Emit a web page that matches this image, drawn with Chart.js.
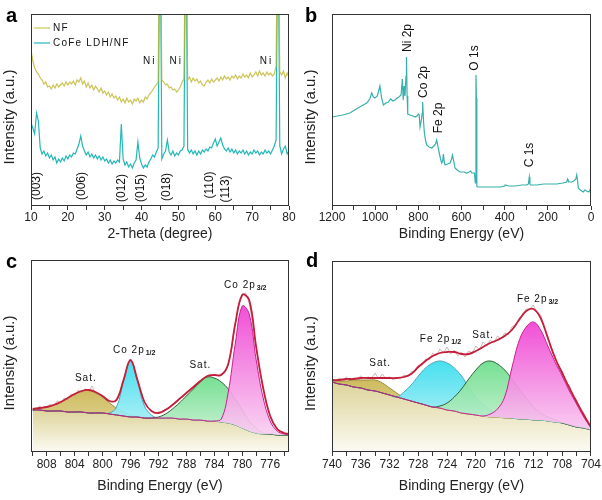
<!DOCTYPE html>
<html>
<head>
<meta charset="utf-8">
<script src="https://cdn.jsdelivr.net/npm/chart.js"></script>
<style>
html,body{margin:0;padding:0;background:#fff;}
#wrap{position:relative;width:602px;height:500px;overflow:hidden;}
.p{position:absolute;}
</style>
</head>
<body>
<div id="wrap">
  <div class="p" style="left:0;top:0;width:301px;height:250px"><canvas id="ca"></canvas></div>
  <div class="p" style="left:301px;top:0;width:301px;height:250px"><canvas id="cb"></canvas></div>
  <div class="p" style="left:0;top:250px;width:301px;height:250px"><canvas id="cc"></canvas></div>
  <div class="p" style="left:301px;top:250px;width:301px;height:250px"><canvas id="cd"></canvas></div>
</div>
<script>
// ---------------- DATA ----------------
// (a) XRD
const twoTheta = [10,10.5,11,11.5,12,12.5,13,13.5,14,14.5,15,15.5,16,16.5,17,17.5,18,18.5,19,19.5,20,20.5,21,21.5,22,22.5,23,23.5,24,24.5,25,25.5,26,26.5,27,27.5,28,28.5,29,29.5,30,30.5,31,31.5,32,32.5,33,33.5,34,34.5,35,35.5,36,36.5,37,37.5,38,38.5,39,39.5,40,40.5,41,41.5,42,42.5,43,43.5,44,44.5,45,45.5,46,46.5,47,47.5,48,48.5,49,49.5,50,50.5,51,51.5,52,52.5,53,53.5,54,54.5,55,55.5,56,56.5,57,57.5,58,58.5,59,59.5,60,60.5,61,61.5,62,62.5,63,63.5,64,64.5,65,65.5,66,66.5,67,67.5,68,68.5,69,69.5,70,70.5,71,71.5,72,72.5,73,73.5,74,74.5,75,75.5,76,76.5,77,77.5,78,78.5,79,79.5,80];
const xrdNF = [156,145,138,134,132,128,126,122,124,119, 120,117,121,118,122,119,121,123,120,124, 121,124,122,125,121,126,124,128,122,125, 119,123,118,121,116,120,117,114,118,113, 115,111,114,109,112,108,110,106,109,104, 107,103,108,104,106,102,107,105,108,103, 106,104,109,107,111,113,116,119,121,124, 320,126,124,121,122,118,119,116,117,114, 116,119,124,127,320,126,129,124,128,125, 127,123,125,121,120,124,126,123,127,124, 126,128,125,129,126,130,127,129,126,130, 128,131,127,130,128,132,129,131,128,133, 129,131,134,130,135,131,133,130,134,131, 133,130,132,140,320,134,131,135,128,133, 129];
const xrdLDH = [83,78,72,93,85,58,52,55,50,53, 48,51,46,49,43,47,44,48,45,50, 47,51,49,53,52,57,62,70,60,55, 51,54,49,52,48,51,47,50,46,49, 45,47,43,46,42,45,43,46,44,82, 47,41,44,39,42,38,43,46,64,48, 42,38,41,39,44,47,51,49,54,58, 320,47,52,55,66,54,51,55,50,53, 51,55,56,60,320,57,53,56,52,55, 51,55,52,56,54,57,55,59,58,63, 67,60,64,68,61,57,55,58,54,57, 53,56,52,55,53,56,52,55,51,54, 52,56,53,55,51,54,52,56,53,55, 52,56,60,66,320,60,52,57,60,52, 55];
const seriesNamesA = ['NF', 'CoFe LDH/NF'];
const notesA = [
  {t:'Ni', x:42.2, y:145}, {t:'Ni', x:49.4, y:145}, {t:'Ni', x:73.9, y:145},
  {t:'(003)', x:11.5, y:20, rot:true}, {t:'(006)', x:23.8, y:20, rot:true},
  {t:'(012)', x:34.6, y:18, rot:true}, {t:'(015)', x:39.8, y:18, rot:true},
  {t:'(018)', x:46.8, y:19, rot:true}, {t:'(110)', x:58.6, y:21, rot:true},
  {t:'(113)', x:62.8, y:17, rot:true}
];
// (b) XPS survey
const beSurvey = [1200,1150,1117,1080,1039,1025,1016,1008,1001,990,978,970,962,950,939,928,918,908,898,890,880,874,870,866,862,857,855,852,849,839,825,815,806,800,796,792,786,782,780,776,772,766,761,750,738,728,720,715,711,706,703,697,692,687,684,680,676,665,653,646,642,637,630,620,607,590,576,565,558,552,545,540,536,533,531,529,527,520,500,470,440,420,400,398,380,350,320,298,290,286,283,280,250,220,190,160,130,113,108,103,90,80,70,66,62,59,50,36,28,20,10,5,0];
const survey = [89,91,93,98,103, 107,113,109,108,110, 120,108,101,103,104, 107,105,106,108,109, 111,127,106,120,110, 130,149,110,92,91, 90,89,90,92,91, 79,86,93,104,85, 73,65,61,59,58, 60,62,66,62,56, 53,47,43,45,52, 44,41,42,43,47, 51,46,38,36,34, 34,33,34,35,33, 33,33,23,131,108, 20,19,19,19,19, 19,19,20,21,20, 20,21,21,22,29, 22,21,21,22,22, 22,23,24,27,24, 24,25,27,31,25, 18,16,14,16,15, 14,16,19];
const notesB = [
  {t:'Ni 2p', x:848, y:168, rot:true}, {t:'Co 2p', x:774, y:124, rot:true},
  {t:'Fe 2p', x:704, y:88, rot:true}, {t:'O 1s', x:537, y:148, rot:true},
  {t:'C 1s', x:283, y:51, rot:true}
];
// (c) Co 2p
const beC = [810,809,808,807,806,805,804,803,802,801,800,799,798,797,796,795,794,793,792,791,790,789,788,787,786,785,784,783,782,781,780,779,778,777,776,775,774,773];
const bgC   = [42,42,41,41,41,40,40,40,39,39, 39,38,37,36,35,35,34,34,34,34, 34,33,33,32,32,31,31,30,29,27, 24,21,19,18,18,17,17,17];
const satC1 = [43,44,45,47,50,54,58,61,62,59, 55,49,44,40,37,35,34,34,34,34, 34,33,33,32,32,31,31,30,29,27, 24,21,19,18,18,17,17,17];
const co12  = [42,42,41,41,41,40,40,40,39,39, 39,39,45,70,91,70,46,37,34,34, 34,33,33,32,32,31,31,30,29,27, 24,21,19,18,18,17,17,17];
const satC2 = [42,42,41,41,41,40,40,40,39,39, 39,38,37,36,35,35,34,34,35,38, 43,49,56,63,70,75,74,70,63,53, 42,31,24,19,18,17,17,17];
const co32  = [42,42,41,41,41,40,40,40,39,39, 39,38,37,36,35,35,34,34,34,34, 34,33,33,32,32,31,31,33,60,108, 146,138,92,54,31,21,18,17];
const envC  = [43,44,45,47,50,54,58,61,62,60, 56,51,52,72,92,72,50,41,39,42, 47,53,59,65,71,76,77,77,88,128, 157,152,105,64,36,23,19,18];
const beRawC = [810,809.5,809,808.5,808,807.5,807,806.5,806,805.5,805,804.5,804,803.5,803,802.5,802,801.5,801,800.5,800,799.5,799,798.5,798,797.5,797,796.5,796,795.5,795,794.5,794,793.5,793,792.5,792,791.5,791,790.5,790,789.5,789,788.5,788,787.5,787,786.5,786,785.5,785,784.5,784,783.5,783,782.5,782,781.5,781,780.5,780,779.5,779,778.5,778,777.5,777,776.5,776,775.5,775,774.5,774,773.5,773];
const rawC = [44,42,46,43,45,48,46,51,49,54, 52,58,56,62,59,63,61,66,58,58, 55,53,50,50,53,60,72,85,93,84, 71,58,50,44,41,39,40,40,43,44, 48,50,54,55,60,62,65,69,71,74, 76,78,77,77,78,79,88,104,128,146, 158,159,149,128,104,82,64,49,37,29, 24,20,19,18,19];
const notesC = [
  {t:'Sat.', x:802.4, y:74, align:'center'},
  {t:'Co 2p', sub:'1/2', x:798.5, y:102, align:'left'},
  {t:'Sat.', x:786.0, y:87, align:'center'},
  {t:'Co 2p', sub:'3/2', x:782.6, y:167, align:'left'}
];
// (d) Fe 2p
const beD = [740,739,738,737,736,735,734,733,732,731,730,729,728,727,726,725,724,723,722,721,720,719,718,717,716,715,714,713,712,711,710,709,708,707,706,705,704];
const bgD   = [70,68,67,65,64,62,61,59,57,55, 53,51,49,47,45,44,42,41,39,38, 37,36,35,35,34,34,33,33,32,32, 31,30,29,27,25,24,22];
const satD1 = [71,71,71,72,72,72,72,69,64,59, 54,51,49,47,45,44,42,41,39,38, 37,36,35,35,34,34,33,33,32,32, 31,30,29,27,25,24,22];
const fe12  = [70,68,67,65,64,62,61,59,57,55, 60,67,76,84,89,91,89,84,76,65, 55,48,42,38,35,34,33,33,32,32, 31,30,29,27,25,24,22];
const satD2 = [70,68,67,65,64,62,61,59,57,55, 53,51,49,47,45,46,49,55,63,73, 82,89,91,88,82,73,63,54,45,39, 35,32,29,27,25,24,22];
const fe32  = [70,68,67,65,64,62,61,59,57,55, 53,51,49,47,45,44,42,41,39,38, 37,36,38,43,55,84,111,125,130,122, 106,90,76,61,48,35,24];
const envD  = [72,72,73,73,74,74,74,74,74,74, 75,78,85,91,96,99,100,100,98,98, 101,105,109,112,116,122,132,141,143,134, 114,94,79,64,50,37,25];
const beRawD = [740,739.5,739,738.5,738,737.5,737,736.5,736,735.5,735,734.5,734,733.5,733,732.5,732,731.5,731,730.5,730,729.5,729,728.5,728,727.5,727,726.5,726,725.5,725,724.5,724,723.5,723,722.5,722,721.5,721,720.5,720,719.5,719,718.5,718,717.5,717,716.5,716,715.5,715,714.5,714,713.5,713,712.5,712,711.5,711,710.5,710,709.5,709,708.5,708,707.5,707,706.5,706,705.5,705,704.5,704];
const rawD = [73,71,74,72,75,72,74,73,76,73, 75,74,79,73,78,73,75,72,74,73, 77,75,80,81,87,86,93,92,99,96, 103,99,105,98,102,96,100,95,101,99, 106,102,110,106,112,109,116,113,119,117, 125,127,134,136,143,143,147,139,137,124, 116,103,96,85,81,70,66,56,52,42, 39,30,26];
const notesD = [
  {t:'Sat.', x:733.3, y:89, align:'center'},
  {t:'Fe 2p', sub:'1/2', x:727.8, y:113, align:'left'},
  {t:'Sat.', x:719.0, y:117, align:'center'},
  {t:'Fe 2p', sub:'3/2', x:714.3, y:153, align:'left'}
];
const xTitleA = '2-Theta (degree)';
const xTitleBE = 'Binding Energy (eV)';
const yTitle = 'Intensity (a.u.)';

// ---------------- CHARTS ----------------
const FONT = '"Liberation Sans", Arial, Helvetica, sans-serif';
Chart.defaults.font.family = FONT;
Chart.defaults.animation = false;
Chart.defaults.events = [];
Chart.defaults.plugins.legend.display = false;
Chart.defaults.plugins.tooltip.enabled = false;
Chart.defaults.elements.point.radius = 0;
Chart.defaults.maintainAspectRatio = false;

function pts(xs, ys) { return xs.map((x, i) => ({x: x, y: ys[i]})); }

function xAxis(o) {
  return {
    type: 'linear', min: o.min, max: o.max, reverse: !!o.reverse,
    afterFit: s => { s.height = o.h; },
    ticks: { stepSize: o.step, includeBounds: false, autoSkip: false, maxRotation: 0, minRotation: 0,
      padding: o.pad, color: '#222', font: {size: 12},
      callback: v => (Math.abs(v % o.every) < 1e-6 ? String(v) : '') },
    grid: { display: true, drawOnChartArea: false, drawTicks: true, tickLength: 4, color: '#333', lineWidth: 1 },
    border: { display: false },
    title: { display: true, text: o.title, color: '#222', font: {size: 14}, padding: {top: 0, bottom: o.tpad} }
  };
}
function yAxis(max) {
  return {
    type: 'linear', min: 0, max: max,
    afterFit: s => { s.width = 31; },
    ticks: { display: false }, grid: { display: false }, border: { display: false },
    title: { display: false, text: yTitle }
  };
}
// y-axis title drawn a little below the axis centre, as in the reference
const yTitlePlugin = {
  id: 'ytitle',
  afterDraw(chart) {
    const {ctx, chartArea: a} = chart;
    const t = chart.options.scales.y.title.text;
    ctx.save();
    ctx.fillStyle = '#222'; ctx.font = '15px ' + FONT;
    ctx.translate(10, (a.top + a.bottom) / 2 + 7);
    ctx.rotate(-Math.PI / 2);
    ctx.textAlign = 'center'; ctx.textBaseline = 'middle';
    ctx.fillText(t, 0, 0);
    ctx.restore();
  }
};
const frame = {
  id: 'frame',
  afterDraw(chart) {
    const {ctx, chartArea: a} = chart;
    ctx.save();
    ctx.strokeStyle = '#333'; ctx.lineWidth = 1;
    ctx.strokeRect(a.left + 0.5, a.top + 0.5, a.right - a.left - 1, a.bottom - a.top - 1);
    ctx.restore();
  }
};
function letter(ch, px, py) {
  return { id: 'letter', afterDraw(chart) {
    const ctx = chart.ctx; ctx.save();
    ctx.fillStyle = '#000'; ctx.font = 'bold 20px ' + FONT; ctx.textBaseline = 'alphabetic'; ctx.textAlign = 'left';
    ctx.fillText(ch, px, py); ctx.restore();
  }};
}
function notes(list, size, spacing) {
  return { id: 'notes', afterDatasetsDraw(chart) {
    const {ctx, scales: {x, y}} = chart;
    list.forEach(n => {
      const px = x.getPixelForValue(n.x), py = y.getPixelForValue(n.y);
      ctx.save();
      ctx.fillStyle = '#111';
      ctx.font = size + 'px ' + FONT;
      try { ctx.letterSpacing = spacing + 'px'; } catch (e) {}
      ctx.textBaseline = 'middle';
      if (n.rot) {
        ctx.translate(px, py); ctx.rotate(-Math.PI / 2);
        ctx.textAlign = 'center'; ctx.fillText(n.t, 0, 0);
      } else {
        ctx.textAlign = n.align || 'center';
        ctx.fillText(n.t, px, py);
        if (n.sub) {
          const w = ctx.measureText(n.t).width;
          ctx.font = 'bold 7px ' + FONT;
          try { ctx.letterSpacing = '0px'; } catch (e) {}
          ctx.textAlign = 'left';
          ctx.fillText(n.sub, px + w + 1, py + 3);
        }
      }
      ctx.restore();
    });
  }};
}
function fade(c1, c2) {
  return function (context) {
    const chart = context.chart, ca = chart.chartArea;
    if (!ca || !chart.scales.y) return c1;
    const ds = context.dataset;
    const mx = Math.max.apply(null, ds.data.map(p => p.y));
    const top = Math.max(ca.top, chart.scales.y.getPixelForValue(mx));
    const g = chart.ctx.createLinearGradient(0, top, 0, ca.bottom);
    g.addColorStop(0, c1); g.addColorStop(1, c2);
    return g;
  };
}

// (a)
new Chart(document.getElementById('ca'), {
  type: 'line',
  data: { datasets: [
    { label: seriesNamesA[0], data: pts(twoTheta, xrdNF), borderColor: 'rgba(190,180,40,0.78)', borderWidth: 1.2, tension: 0, fill: false },
    { label: seriesNamesA[1], data: pts(twoTheta, xrdLDH), borderColor: '#22b8b6', borderWidth: 1.2, tension: 0, fill: false }
  ]},
  options: {
    layout: { padding: {top: 14, right: 12, left: 0, bottom: 0} },
    scales: {
      x: xAxis({min: 10, max: 80, step: 5, every: 10, h: 44, pad: 0, tpad: 7, title: xTitleA}),
      y: yAxis(192)
    }
  },
  plugins: [frame, yTitlePlugin, letter('a', 6, 22), notes(notesA.filter(n => !n.rot), 10, 2), notes(notesA.filter(n => n.rot), 12, 0), {
    id: 'legendA', afterDraw(chart) {
      const {ctx, chartArea: a} = chart;
      chart.data.datasets.forEach((d, i) => {
        const yy = a.top + 14 + i * 15;
        ctx.save();
        ctx.strokeStyle = d.borderColor; ctx.lineWidth = 1.2;
        ctx.beginPath(); ctx.moveTo(a.left + 3, yy); ctx.lineTo(a.left + 19, yy); ctx.stroke();
        ctx.fillStyle = '#111'; ctx.font = '10px ' + FONT; ctx.textBaseline = 'middle'; ctx.textAlign = 'left';
        try { ctx.letterSpacing = '1.2px'; } catch (e) {}
        ctx.fillText(d.label, a.left + 22, yy);
        ctx.restore();
      });
    }
  }]
});

// (b)
new Chart(document.getElementById('cb'), {
  type: 'line',
  data: { datasets: [
    { label: 'Survey', data: pts(beSurvey, survey), borderColor: '#36b0aa', borderWidth: 1.2, tension: 0, fill: false }
  ]},
  options: {
    layout: { padding: {top: 14, right: 11, left: 0, bottom: 0} },
    scales: {
      x: xAxis({min: 0, max: 1200, reverse: true, step: 100, every: 200, h: 44, pad: 0, tpad: 7, title: xTitleBE}),
      y: yAxis(192)
    }
  },
  plugins: [frame, yTitlePlugin, letter('b', 4, 22), notes(notesB, 12, 0)]
});

function xpsDatasets(be, beRaw, env, raw, p3, s2, p1, s1, bg, names) {
  return [
    { label: names[0], data: pts(be, env), borderColor: '#c41e3a', borderWidth: 1.8, tension: 0.4, fill: false, order: 1 },
    { label: names[1], data: pts(beRaw, raw), borderColor: 'rgba(185,150,150,0.85)', borderWidth: 0.8, tension: 0, fill: false, order: 2 },
    { label: names[2], data: pts(be, p3), borderColor: '#c8208e', borderWidth: 1, tension: 0.4, fill: 6,
      backgroundColor: fade('rgba(240,70,212,0.95)', 'rgba(250,225,245,0.9)'), order: 3 },
    { label: names[3], data: pts(be, s2), borderColor: '#2d5d35', borderWidth: 1, tension: 0.4, fill: 6,
      backgroundColor: fade('rgba(110,222,140,0.95)', 'rgba(225,245,230,0.9)'), order: 4 },
    { label: names[4], data: pts(be, p1), borderColor: '#4aa4c0', borderWidth: 1, tension: 0.4, fill: 6,
      backgroundColor: fade('rgba(60,222,238,0.95)', 'rgba(215,244,248,0.9)'), order: 5 },
    { label: names[5], data: pts(be, s1), borderColor: '#9c8c3c', borderWidth: 1, tension: 0.4, fill: 6,
      backgroundColor: fade('rgba(204,184,86,0.95)', 'rgba(232,222,175,0.9)'), order: 6 },
    { label: names[6], data: pts(be, bg), borderColor: '#c9c07c', borderWidth: 1, tension: 0.4, fill: 'origin',
      backgroundColor: fade('rgba(220,210,150,0.95)', 'rgba(252,251,244,1)'), order: 7 }
  ];
}

// (c)
new Chart(document.getElementById('cc'), {
  type: 'line',
  data: { datasets: xpsDatasets(beC, beRawC, envC, rawC, co32, satC2, co12, satC1, bgC,
    ['Fit', 'Raw', 'Co 2p3/2', 'Sat.', 'Co 2p1/2', 'Sat.', 'Background']) },
  options: {
    layout: { padding: {top: 10, right: 12, left: 0, bottom: 0} },
    scales: {
      x: xAxis({min: 773.3, max: 810.25, reverse: true, step: 2, every: 4, h: 48, pad: 1, tpad: 5, title: xTitleBE}),
      y: yAxis(192)
    }
  },
  plugins: [frame, yTitlePlugin, letter('c', 6, 18), notes(notesC, 10, 1)]
});

// (d)
new Chart(document.getElementById('cd'), {
  type: 'line',
  data: { datasets: xpsDatasets(beD, beRawD, envD, rawD, fe32, satD2, fe12, satD1, bgD,
    ['Fit', 'Raw', 'Fe 2p3/2', 'Sat.', 'Fe 2p1/2', 'Sat.', 'Background']) },
  options: {
    layout: { padding: {top: 11, right: 11, left: 0, bottom: 0} },
    scales: {
      x: xAxis({min: 704, max: 740, reverse: true, step: 2, every: 4, h: 48, pad: 1, tpad: 5, title: xTitleBE}),
      y: yAxis(191)
    }
  },
  plugins: [frame, yTitlePlugin, letter('d', 5, 17), notes(notesD, 10, 1)]
});
</script>
</body>
</html>
